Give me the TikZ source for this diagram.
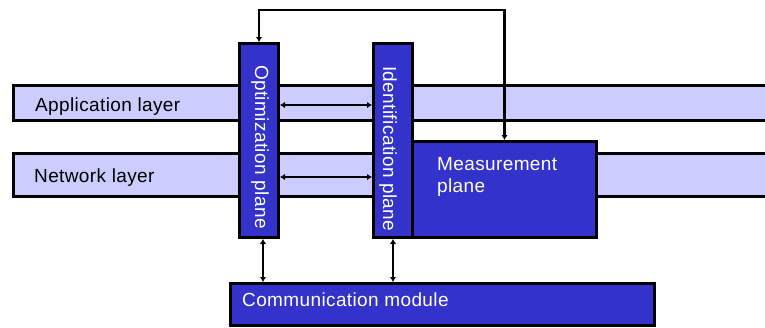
\documentclass[tikz,border=0pt]{standalone}
\usepackage{fontspec}
\setmainfont{Liberation Sans}[LetterSpace=2]
\usetikzlibrary{arrows.meta}
\definecolor{layerfill}{HTML}{CCCCFF}
\definecolor{planefill}{HTML}{3333CC}
\begin{document}
\begin{tikzpicture}[x=1pt,y=-1pt,
  layerbox/.style={draw=black, line width=3pt, fill=layerfill, rectangle, inner sep=0pt, anchor=north west},
  planebox/.style={draw=black, line width=3pt, fill=planefill, rectangle, inner sep=0pt, anchor=north west},
  lbl/.style={font=\fontsize{19}{22}\selectfont, inner sep=0pt},
  wlbl/.style={lbl, text=white},
  conn/.style={line width=2.7pt, {Latex[length=5pt,width=6.5pt]}-{Latex[length=5pt,width=6.5pt]}}]
\useasboundingbox (0,0) rectangle (765,327);
\clip (0,0) rectangle (765,327);
% layers
\node[layerbox, minimum width=770pt, minimum height=35pt] (app) at (12,84) {};
\node[layerbox, minimum width=770pt, minimum height=43pt] (net) at (12,152) {};
\node[lbl, anchor=base west] (applbl) at (35,111) {Application layer};
\node[lbl, anchor=base west] (netlbl) at (34,182) {Network layer};
% planes
\node[planebox, minimum width=39pt, minimum height=194pt] (opt) at (238,42) {};
\node[planebox, minimum width=39pt, minimum height=194pt] (ident) at (372,42) {};
\node[planebox, minimum width=184pt, minimum height=96pt] (meas) at (411,140) {};
\node[planebox, minimum width=424pt, minimum height=42pt] (comm) at (229,282) {};
% labels
\node[wlbl, rotate=-90, anchor=west] (optlbl) at (260,65) {Optimization plane};
\node[wlbl, rotate=-90, anchor=west] (identlbl) at (388,66) {Identification plane};
\node[wlbl, anchor=north west, align=left] (measlbl) at (437,157) {Measurement\\plane};
\node[wlbl, anchor=base west] (commlbl) at (242,306) {Communication module};
% connectors
\draw[conn] (opt.north) -- ++(0,-32) -| (meas.north);
\draw[conn] ([yshift=-2pt]opt.east |- app.center) -- ([yshift=-2pt]ident.west |- app.center);
\draw[conn] ([yshift=-2pt]opt.east |- net.center) -- ([yshift=-2pt]ident.west |- net.center);
\draw[conn] ([xshift=4pt]opt.south) -- ([xshift=4pt]opt.south |- comm.north);
\draw[conn] (ident.south) -- (ident.south |- comm.north);
\end{tikzpicture}
\end{document}
